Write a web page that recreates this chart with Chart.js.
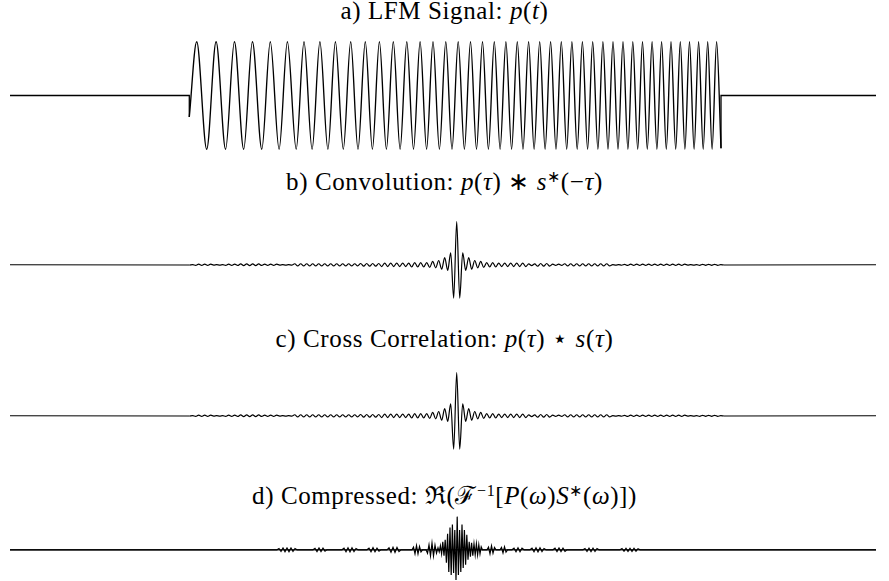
<!DOCTYPE html>
<html>
<head>
<meta charset="utf-8">
<script src="https://cdn.jsdelivr.net/npm/chart.js@4.4.1/dist/chart.umd.min.js"></script>
<style>
html,body{margin:0;padding:0;background:#fff;width:889px;height:581px;overflow:hidden;}
#wrap{position:relative;width:889px;height:581px;}
canvas{position:absolute;left:0;}
.ttl{position:absolute;left:0;width:889px;text-align:center;font-family:'Liberation Serif',Tinos,'Times New Roman',serif;font-size:25px;line-height:25px;color:#000;white-space:nowrap;letter-spacing:0.6px;}
.ttl sup{font-size:16px;line-height:0;vertical-align:0.5em;}
</style>
</head>
<body>
<div id="wrap">
  <div class="ttl" style="top:-2px">a) LFM Signal: <i>p</i>(<i>t</i>)</div>
  <canvas id="cA" width="889" height="129" style="top:31px"></canvas>
  <div class="ttl" style="top:169px">b) Convolution: <i>p</i>(<i>τ</i>) ∗ <i>s</i><sup>∗</sup>(−<i>τ</i>)</div>
  <canvas id="cB" width="889" height="95" style="top:213px"></canvas>
  <div class="ttl" style="top:326px">c) Cross Correlation: <i>p</i>(<i>τ</i>) ⋆ <i>s</i>(<i>τ</i>)</div>
  <canvas id="cC" width="889" height="95" style="top:364px"></canvas>
  <div class="ttl" style="top:483px">d) Compressed: ℜ(ℱ<sup>−1</sup>[<i>P</i>(<i>ω</i>)<i>S</i><sup>∗</sup>(<i>ω</i>)])</div>
  <canvas id="cD" width="889" height="73" style="top:510px"></canvas>
</div>
<script>
// ---------- DATA (time in samples, amplitude normalised) ----------
const windowEdges = [0, 866];

// a) LFM pulse: start sample, then successive extrema (peaks/troughs), end sample
const lfmTimes = [179.3, 186.7, 196.7, 206.1, 215.6, 224.4, 233.7, 242.4, 251.8, 260.3, 269.1, 277.4, 286.2, 294.0, 302.1, 309.9, 317.9, 325.4, 333.3, 340.7, 348.0, 355.3, 362.4, 369.4, 376.4, 383.3, 390.1, 396.8, 403.5, 410.1, 416.6, 423.0, 429.4, 435.8, 442.0, 448.2, 454.4, 460.5, 466.5, 472.5, 478.4, 484.3, 490.1, 495.9, 501.6, 507.3, 513.0, 518.6, 524.1, 529.7, 535.1, 540.6, 546.0, 551.3, 556.7, 561.9, 567.2, 572.4, 577.6, 582.7, 587.9, 592.9, 598.0, 603.0, 608.0, 613.0, 617.9, 622.8, 627.7, 632.5, 637.3, 642.1, 646.9, 651.6, 656.3, 661.0, 665.7, 670.3, 674.9, 679.5, 684.1, 688.6, 693.2, 697.7, 702.1, 706.6, 711.0];
const lfmValues = [-0.4,
  1,-1,1,-1,1,-1,1,-1,1,-1, 1,-1,1,-1,1,-1,1,-1,1,-1,
  1,-1,1,-1,1,-1,1,-1,1,-1, 1,-1,1,-1,1,-1,1,-1,1,-1,
  1,-1,1,-1,1,-1,1,-1,1,-1, 1,-1,1,-1,1,-1,1,-1,1,-1,
  1,-1,1,-1,1,-1,1,-1,1,-1, 1,-1,1,-1,1,-1,1,-1,1,-1,
  1,-1,1,-1,1,-0.98];

// b/c) lag grid
const lagStart = 179.7, lagStep = 3;
const convolutionValues = [
  -0.005,0.005,-0.015,0.015,-0.015,0.015,-0.015,0.015,-0.005,0.005,
  -0.005,0.005,-0.015,0.015,-0.015,0.015,-0.015,0.02,-0.02,0.02,
  -0.02,0.02,-0.02,0.02,-0.015,0.015,-0.015,0.015,-0.015,0.015,
  -0.005,0.005,-0.005,0.005,-0.005,0.025,-0.025,0.025,-0.025,0.025,
  -0.025,0.025,-0.025,0.025,-0.025,0.025,-0.025,0.025,-0.025,0.025,
  -0.025,0.025,-0.025,0.025,-0.025,0.025,-0.025,0.03,-0.03,0.03,
  -0.03,0.03,-0.03,0.03,-0.04,0.04,-0.04,0.04,-0.04,0.04,
  -0.04,0.04,-0.04,0.04,-0.05,0.05,-0.05,0.05,-0.05,0.05,
  -0.06,0.08,-0.07,0.1,-0.1,0.17,-0.13,0.28,-0.77,1.0,
  -0.77,0.28,-0.13,0.17,-0.1,0.1,-0.07,0.08,-0.06,0.05,
  -0.05,0.05,-0.05,0.04,-0.04,0.04,-0.04,0.04,-0.04,0.04,
  -0.04,0.04,-0.04,0.02,-0.02,0.02,-0.03,0.03,-0.03,0.03,
  -0.03,0.015,-0.015,0.015,-0.015,0.025,-0.025,0.025,-0.025,0.025,
  -0.025,0.025,-0.025,0.025,-0.025,0.025,-0.025,0.025,-0.025,0.025,
  -0.025,0.005,-0.005,0.005,-0.01,0.01,-0.015,0.015,-0.015,0.015,
  -0.015,0.015,-0.015,0.015,-0.015,0.015,-0.015,0.015,-0.015,0.015,
  -0.015,0.015,-0.015,0.015,-0.015,0.015,-0.005,0.005,-0.005,0.005,
  -0.012,0.012,-0.012,0.012,-0.012,0.012,-0.012,0.003,-0.003];
const correlationValues = [
  -0.005,0.005,-0.015,0.015,-0.015,0.015,-0.015,0.015,-0.005,0.005,
  -0.005,0.005,-0.015,0.015,-0.015,0.015,-0.015,0.02,-0.02,0.02,
  -0.02,0.02,-0.02,0.02,-0.015,0.015,-0.015,0.015,-0.015,0.015,
  -0.005,0.005,-0.005,0.005,-0.005,0.025,-0.025,0.025,-0.025,0.025,
  -0.025,0.025,-0.025,0.025,-0.025,0.025,-0.025,0.025,-0.025,0.025,
  -0.025,0.025,-0.025,0.025,-0.025,0.025,-0.025,0.03,-0.03,0.03,
  -0.03,0.03,-0.03,0.03,-0.04,0.04,-0.04,0.04,-0.04,0.04,
  -0.04,0.04,-0.04,0.04,-0.05,0.05,-0.05,0.05,-0.05,0.05,
  -0.06,0.08,-0.07,0.1,-0.1,0.17,-0.13,0.28,-0.77,1.0,
  -0.77,0.28,-0.13,0.17,-0.1,0.1,-0.07,0.08,-0.06,0.05,
  -0.05,0.05,-0.05,0.04,-0.04,0.04,-0.04,0.04,-0.04,0.04,
  -0.04,0.04,-0.04,0.02,-0.02,0.02,-0.03,0.03,-0.03,0.03,
  -0.03,0.015,-0.015,0.015,-0.015,0.025,-0.025,0.025,-0.025,0.025,
  -0.025,0.025,-0.025,0.025,-0.025,0.025,-0.025,0.025,-0.025,0.025,
  -0.025,0.005,-0.005,0.005,-0.01,0.01,-0.015,0.015,-0.015,0.015,
  -0.015,0.015,-0.015,0.015,-0.015,0.015,-0.015,0.015,-0.015,0.015,
  -0.015,0.015,-0.015,0.015,-0.015,0.015,-0.005,0.005,-0.005,0.005,
  -0.012,0.012,-0.012,0.012,-0.012,0.012,-0.012,0.003,-0.003];

// d) compressed output (real part)
const compTimes = [0,
  267,269,271,273,275,277,279,281,283,285,287,
  303,305,307,309,311,313,315,317,
  332,334,336,338,340,342,344,346,348,
  357,359,361,363,365,367,369,371,
  377,379,381,383,385,387,389,391,
  402,403.5,405,406.5,408,409.5,411,412.5,
  416,417.5,419,420.5,422,423.5,425,426.5,
  428,429.2,430.4,431.6,432.8,434,435.2,436.4,437.6,438.8,440,441.2,442.4,443.6,444.8,446,447.2,448.4,449.6,450.8,452,453.2,454.4,455.6,456.8,458,459.2,460.4,461.6,462.8,464,465.2,466.4,467.6,468.8,470,471.2,472.4,
  477,478.5,480,481.5,483,484.5,486,
  490,491.5,493,494.5,496,497.5,
  502,504,506,508,510,512,514,
  520,522,524,526,528,530,532,534,536,
  543,545,547,549,551,553,555,557,
  573,575,577,579,581,583,585,587,589,
  610,612,614,616,618,620,622,624,626,628,630,
  866];
const compValues = [0,
  0,0.04,-0.05,0.055,-0.055,0.055,-0.055,0.055,-0.05,0.04,0,
  0,0.045,-0.055,0.055,-0.055,0.05,-0.04,0,
  0,0.05,-0.06,0.06,-0.06,0.06,-0.05,0.04,0,
  0,0.05,-0.06,0.065,-0.06,0.05,-0.04,0,
  0,0.06,-0.07,0.075,-0.075,0.07,-0.05,0,
  0,0.08,-0.12,0.13,-0.12,0.1,-0.06,0,
  0,-0.1,0.15,-0.18,0.2,-0.18,0.14,-0.1,
  0.06,-0.06,0.12,-0.12,0.24,-0.18,0.3,-0.39,0.48,-0.67,0.67,-0.76,0.76,-0.7,0.6,-0.91,1.0,-0.76,0.6,-0.67,0.76,-0.55,0.6,-0.45,0.45,-0.3,0.24,-0.21,0.21,-0.18,0.18,-0.15,0.18,-0.15,0.15,-0.12,0.09,0,
  0,0.08,-0.12,0.12,-0.1,0.07,0,
  0,0.07,-0.09,0.09,-0.07,0,
  0,0.05,-0.06,0.06,-0.06,0.05,0,
  0,0.05,-0.06,0.06,-0.06,0.06,-0.05,0.04,0,
  0,0.05,-0.055,0.055,-0.055,0.05,-0.045,0,
  0,0.04,-0.05,0.05,-0.05,0.05,-0.05,0.04,0,
  0,0.04,-0.045,0.045,-0.045,0.045,-0.045,0.045,-0.04,0.035,0,
  0];

// ---------- CHARTS ----------
const pairs = (xs, ys) => xs.map((x, i) => ({x, y: ys[i]}));
const onGrid = (ys) => ys.map((y, i) => ({x: lagStart + i * lagStep, y}));

function line(points, extra) {
  return Object.assign({data: points, borderColor: '#000', borderWidth: 1.1, pointRadius: 0,
    fill: false, tension: 0}, extra || {});
}
function draw(id, datasets, yMin, yMax) {
  new Chart(document.getElementById(id), {
    type: 'line',
    data: {datasets},
    options: {
      responsive: false, animation: false, events: [],
      layout: {padding: 0},
      plugins: {legend: {display: false}, tooltip: {enabled: false}, title: {display: false}},
      scales: {
        x: {type: 'linear', display: false, min: -10, max: 879},
        y: {type: 'linear', display: false, min: yMin, max: yMax}
      }
    }
  });
}

const first = lfmTimes[0], last = lfmTimes[lfmTimes.length - 1];
draw('cA', [
  line([{x: windowEdges[0], y: 0}, {x: first, y: 0}, {x: first, y: lfmValues[0]}], {borderWidth: 1.3}),
  line(pairs(lfmTimes, lfmValues), {cubicInterpolationMode: 'monotone', borderWidth: 1.35}),
  line([{x: last, y: lfmValues[lfmValues.length - 1]}, {x: last, y: 0}, {x: windowEdges[1], y: 0}], {borderWidth: 1.3})
], -1.2, 1.2);

function corrSets(vals) {
  const g = onGrid(vals);
  return [
    line([{x: windowEdges[0], y: 0}, g[0]]),
    line(g, {cubicInterpolationMode: 'monotone', borderWidth: 1.2}),
    line([g[g.length - 1], {x: windowEdges[1], y: 0}])
  ];
}
draw('cB', corrSets(convolutionValues), -1.0, 1.2);
draw('cC', corrSets(correlationValues), -1.0, 1.2);

draw('cD', [
  line([{x: windowEdges[0], y: 0}, {x: windowEdges[1], y: 0}], {borderWidth: 1.6, borderColor: 'rgba(0,0,0,0.8)'}),
  line(pairs(compTimes, compValues), {borderWidth: 1.2})
], -1.0, 1.2);
</script>
</body>
</html>
